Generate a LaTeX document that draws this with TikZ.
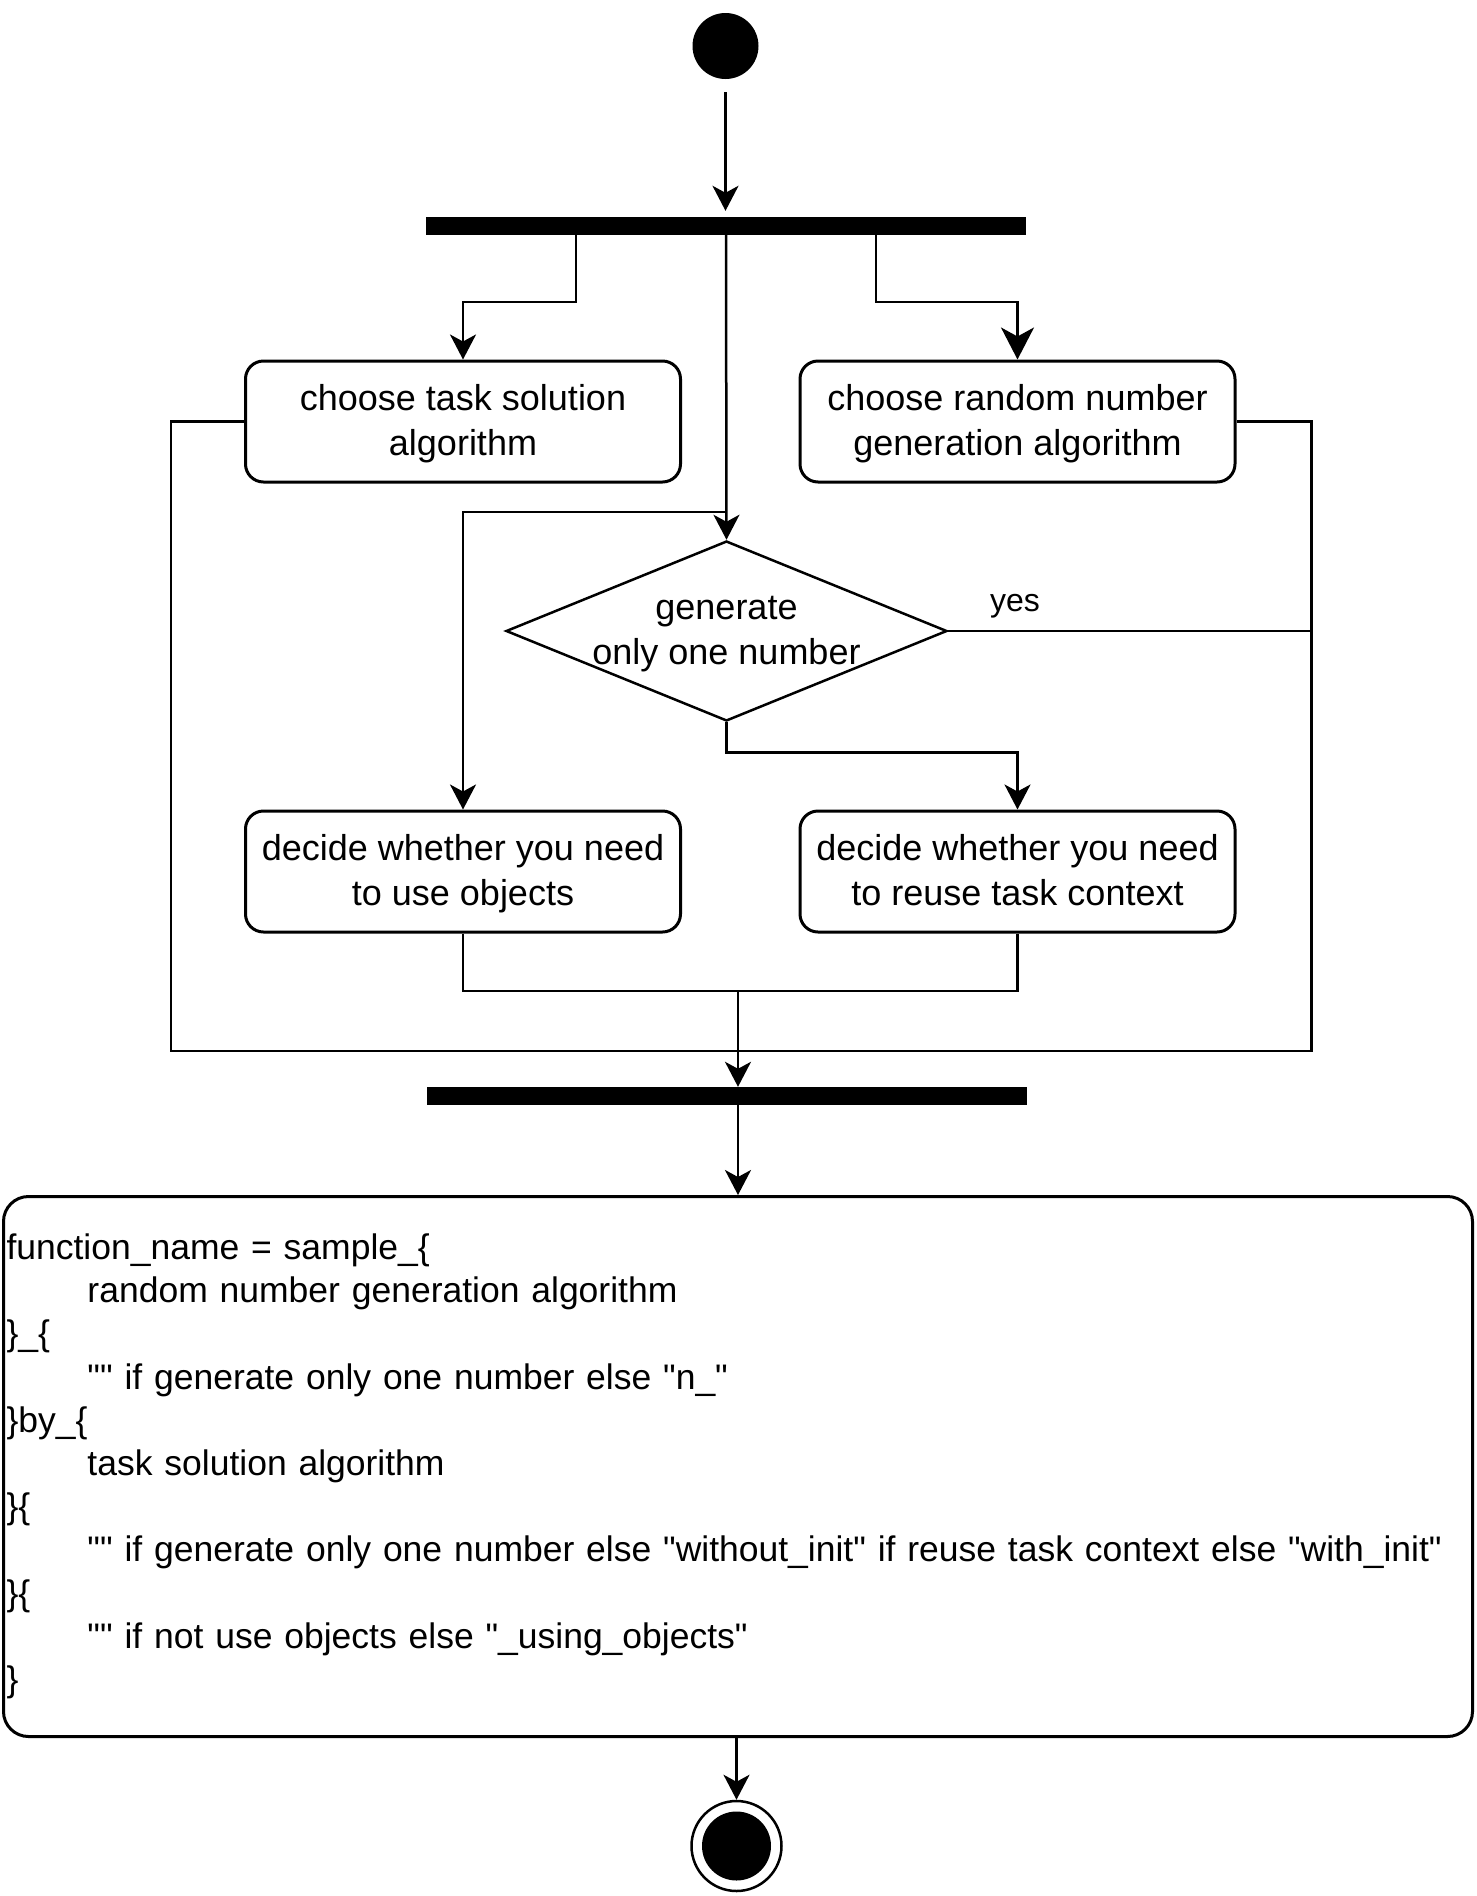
\documentclass[tikz,border=0pt]{standalone}
\usepackage{fontspec}
\setmainfont{Liberation Sans}[Ligatures=TeXOff]
\usetikzlibrary{arrows.meta,shapes.geometric}
\newcommand\boxstrut{\rule[-11.5pt]{0pt}{45pt}}
\newcommand\codestrut{\rule[-12.6pt]{0pt}{43.2pt}}
\begin{document}
\begin{tikzpicture}[x=1pt,y=-1pt,
  conn/.style={line width=2.5pt},
  arr/.style={conn,-{Stealth[length=25pt,width=26pt,inset=7pt]}},
  bigarr/.style={conn,-{Stealth[length=32pt,width=33pt,inset=9pt]}},
  act/.style={draw,line width=3pt,rounded corners=18pt,minimum width=435pt,minimum height=121pt,align=center,font=\fontsize{36}{45}\selectfont,inner sep=0pt},
  bar/.style={fill=black,minimum width=600pt,minimum height=18pt,inner sep=0pt},
  lbl/.style={font=\fontsize{36}{45}\selectfont,align=center,inner sep=0pt}]
\useasboundingbox (0,0) rectangle (1476,1896);

\node[circle,fill=black,minimum size=66pt,inner sep=0pt] (start) at (725.5,46) {};
\node[bar] (fork) at (726,226) {};
\node[act] (cts) at (463,421.5) {\boxstrut choose task solution\\algorithm\boxstrut};
\node[act] (crn) at (1017.5,421.5) {\boxstrut choose random number\\generation algorithm\boxstrut};
\node[diamond,draw,line width=2.5pt,minimum width=441pt,minimum height=180pt,inner sep=0pt] (dec) at (726.5,631) {};
\node[lbl] (dectext) at (726.5,631) {\boxstrut generate\\only one number\boxstrut};
\node[font=\fontsize{32}{38}\selectfont,inner sep=0pt] (yes) at (1015,606) {yes};
\node[act] (duo) at (463,871.5) {\boxstrut decide whether you need\\to use objects\boxstrut};
\node[act] (drc) at (1017.5,871.5) {\boxstrut decide whether you need\\to reuse task context\boxstrut};
\node[bar] (join) at (727,1096) {};
\node[draw,line width=3pt,rounded corners=25pt,anchor=north west,minimum width=1469pt,minimum height=540pt,text width=1463pt,inner xsep=3pt,inner ysep=0pt,align=left,font=\fontsize{35.5}{43.2}\selectfont,execute at begin node=\codestrut,execute at end node=\codestrut] (code) at (2,1195) {%
function\_name = sample\_\{\\
\hspace*{81pt}random number generation algorithm\\
\}\_\{\\
\hspace*{81pt}"" if generate only one number else "n\_"\\
\}by\_\{\\
\hspace*{81pt}task solution algorithm\\
\}\{\\
\mbox{\hspace*{81pt}"" if generate only one number else "without\_init" if reuse task context else "with\_init"}\\
\}\{\\
\hspace*{81pt}"" if not use objects else "\_using\_objects"\\
\}};
\node[circle,draw,line width=2.5pt,minimum size=90pt,inner sep=0pt] (end) at (736.5,1846) {};
\node[circle,fill=black,minimum size=69pt,inner sep=0pt] (endin) at (736.5,1846) {};

\coordinate (br) at (726,512);
\coordinate (jn) at (738,1051);
\coordinate (mg) at (738,991);
\coordinate (lo) at (171,0);
\coordinate (ro) at (1311.5,0);

\draw[arr,shorten <=13pt,shorten >=6pt] (start.south) -- (start.south |- fork.north);
\draw[arr] ([xshift=-150pt]fork.south) -- ++(0,67) -| (cts.north);
\draw[bigarr] ([xshift=150pt]fork.south) -- ++(0,67) -| (crn.north);
\draw[arr] (fork.south) -- (dec.north);
\draw[arr] (br) -| (duo.north);
\draw[conn] (cts.west) -- (cts.west -| lo) |- (jn);
\draw[conn] (crn.east) -- (crn.east -| ro) |- (jn);
\draw[conn] (dec.east) -- (dec.east -| ro);
\draw[arr] (dec.south) -- ++(0,30) -| (drc.north);
\draw[conn] (duo.south) |- (mg);
\draw[conn] (drc.south) |- (mg);
\draw[arr] (mg) -- (mg |- join.north);
\draw[arr] (mg |- join.south) -- (mg |- code.north);
\draw[arr] (code.south -| end.north) -- (end.north);
\end{tikzpicture}
\end{document}
